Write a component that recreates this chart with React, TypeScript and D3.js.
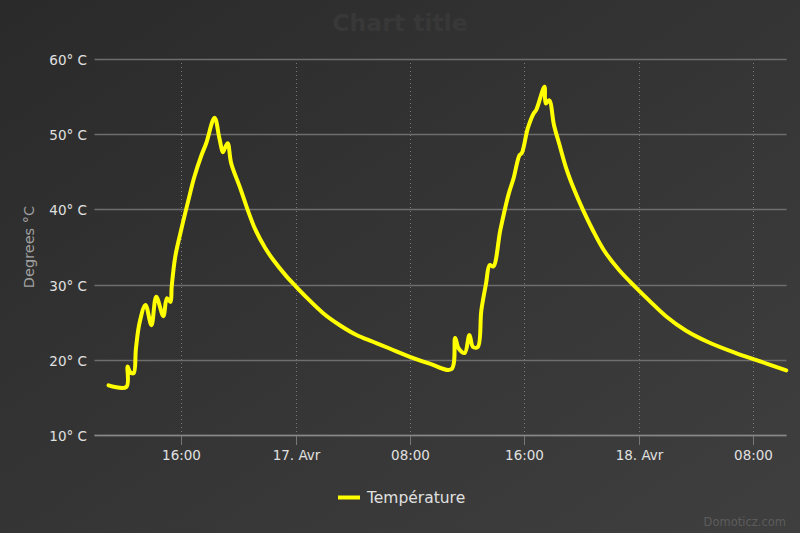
import React from "react";
import * as d3 from "d3";

const times: string[] = [
  "2016-04-16 10:55", "2016-04-16 12:10", "2016-04-16 12:15", "2016-04-16 12:25", "2016-04-16 12:40",
  "2016-04-16 12:50", "2016-04-16 13:05", "2016-04-16 13:30", "2016-04-16 13:55", "2016-04-16 14:15",
  "2016-04-16 14:45", "2016-04-16 15:00", "2016-04-16 15:15", "2016-04-16 15:20", "2016-04-16 15:35",
  "2016-04-16 16:00", "2016-04-16 16:30", "2016-04-16 16:55", "2016-04-16 17:25", "2016-04-16 17:45",
  "2016-04-16 18:20", "2016-04-16 18:40", "2016-04-16 18:55", "2016-04-16 19:00", "2016-04-16 19:15",
  "2016-04-16 19:30", "2016-04-16 20:07", "2016-04-16 20:35", "2016-04-16 21:10", "2016-04-16 21:52",
  "2016-04-16 22:26", "2016-04-16 23:22", "2016-04-17 00:00", "2016-04-17 00:46", "2016-04-17 01:56",
  "2016-04-17 03:06", "2016-04-17 04:16", "2016-04-17 05:25", "2016-04-17 06:35", "2016-04-17 08:00",
  "2016-04-17 09:23", "2016-04-17 10:54",
  "2016-04-17 11:10", "2016-04-17 11:25", "2016-04-17 11:50", "2016-04-17 12:10",
  "2016-04-17 12:25", "2016-04-17 12:45", "2016-04-17 13:00", "2016-04-17 13:20", "2016-04-17 13:35",
  "2016-04-17 13:50", "2016-04-17 14:20", "2016-04-17 14:55", "2016-04-17 15:15", "2016-04-17 15:40",
  "2016-04-17 15:50", "2016-04-17 16:15", "2016-04-17 16:40", "2016-04-17 16:50", "2016-04-17 17:25",
  "2016-04-17 17:30", "2016-04-17 17:45", "2016-04-17 18:05", "2016-04-17 18:28", "2016-04-17 18:56",
  "2016-04-17 19:30", "2016-04-17 20:07", "2016-04-17 20:47", "2016-04-17 21:36", "2016-04-17 22:39",
  "2016-04-17 23:49", "2016-04-18 00:44", "2016-04-18 01:55", "2016-04-18 03:18", "2016-04-18 04:56",
  "2016-04-18 06:48", "2016-04-18 08:02", "2016-04-18 10:20",
];

const temperatures: number[] = [
  16.6, 16.4, 19.1, 18.4, 18.2,
  21.5, 24.9, 27.3, 24.6, 28.4,
  25.8, 28.2, 27.7, 29.7, 33.7,
  37.3, 41.2, 44.3, 47.2, 48.8,
  52.2, 49.5, 47.6, 47.9, 48.8,
  46.1, 42.9, 40.3, 37.4, 34.9,
  33.3, 31.1, 29.8, 28.3, 26.2,
  24.6, 23.3, 22.4, 21.5, 20.4,
  19.5, 18.75,
  22.9, 21.5, 20.9, 23.3,
  21.7, 21.7, 26.6, 30.2, 32.6,
  32.4, 37.3, 42.1, 44.1, 47.2,
  47.5, 50.8, 52.8, 53.2, 56.3,
  54.1, 54.5, 51.2, 48.6, 45.5,
  42.6, 39.9, 37.3, 34.5, 31.9,
  29.6, 27.9, 25.8, 23.9, 22.3,
  20.9, 20.1, 18.6,
];

const yTicks: number[] = [10, 20, 30, 40, 50, 60];
const xTickTimes: string[] = [
  "2016-04-16 16:00", "2016-04-17 00:00", "2016-04-17 08:00",
  "2016-04-17 16:00", "2016-04-18 00:00", "2016-04-18 08:00",
];
const xTickLabels: string[] = ["16:00", "17. Avr", "08:00", "16:00", "18. Avr", "08:00"];
const xDomain: string[] = ["2016-04-16 09:56", "2016-04-18 10:21"];

const seriesName = "Température";
const chartTitle = "Chart title";
const yTitle = "Degrees °C";
const credits = "Domoticz.com";

const parse = d3.timeParse("%Y-%m-%d %H:%M");

export default function App() {
  const W = 800, H = 533;
  const left = 94.5, right = 786.5, top = 59, bottom = 435;
  const x = d3.scaleTime().domain(xDomain.map((s) => parse(s) as Date)).range([left, right]);
  const y = d3.scaleLinear().domain([10, 60]).range([bottom, top]);
  const data = times.map((t, i) => ({ t: parse(t) as Date, v: temperatures[i] }));
  const line = d3
    .line<{ t: Date; v: number }>()
    .x((d) => x(d.t))
    .y((d) => y(d.v))
    .curve(d3.curveCatmullRom.alpha(0.5));
  const font = "'DejaVu Sans', sans-serif";
  return (
    <svg width={W} height={H} style={{ position: "absolute", left: 0, top: 0 }}>
      <defs>
        <linearGradient id="bg" x1="0" y1="0" x2="1" y2="1">
          <stop offset="0" stopColor="#2a2a2a" />
          <stop offset="1" stopColor="#3f3f3f" />
        </linearGradient>
      </defs>
      <rect x={0} y={0} width={W} height={H} fill="url(#bg)" />
      <text x={400} y={31} textAnchor="middle" fontFamily={font} fontWeight="bold" fontSize={23.5} fill="#383838">
        {chartTitle}
      </text>
      {xTickTimes.map((s, i) => {
        const xx = Math.round(x(parse(s) as Date)) + 0.5;
        return (
          <g key={"xt" + i}>
            <line x1={xx} x2={xx} y1={top} y2={bottom} stroke="#7a7a7a" strokeWidth={1} strokeDasharray="1,3" />
            <line x1={xx} x2={xx} y1={bottom} y2={bottom + 10} stroke="#777" strokeWidth={1} />
            <text x={xx} y={460} textAnchor="middle" fontFamily={font} fontSize={13.5} fill="#e0e0e0">
              {xTickLabels[i]}
            </text>
          </g>
        );
      })}
      {yTicks.map((t) => {
        const yy = Math.round(y(t)) + 0.5;
        return (
          <g key={"yt" + t}>
            <line x1={left} x2={right} y1={yy} y2={yy} stroke="#6e6e6e" strokeWidth={1.5} />
            <text x={87} y={yy + 5} textAnchor="end" fontFamily={font} fontSize={13.5} fill="#e0e0e0">
              {`${t}° C`}
            </text>
          </g>
        );
      })}
      <line x1={left} x2={right} y1={bottom + 0.5} y2={bottom + 0.5} stroke="#888" strokeWidth={1.5} />
      <text
        transform={`translate(34,247) rotate(-90)`}
        textAnchor="middle"
        fontFamily={font}
        fontSize={14.5}
        fill="#a0a0a0"
      >
        {yTitle}
      </text>
      <path d={line(data) || ""} fill="none" stroke="#ffff00" strokeWidth={4} strokeLinejoin="round" strokeLinecap="round" />
      <line x1={338} x2={360} y1={497.5} y2={497.5} stroke="#ffff00" strokeWidth={4} />
      <text x={367} y={503} fontFamily={font} fontSize={15.5} fill="#e0e0e0">
        {seriesName}
      </text>
      <text x={786} y={525.5} textAnchor="end" fontFamily={font} fontSize={11.5} fill="#5c5c5c">
        {credits}
      </text>
    </svg>
  );
}
